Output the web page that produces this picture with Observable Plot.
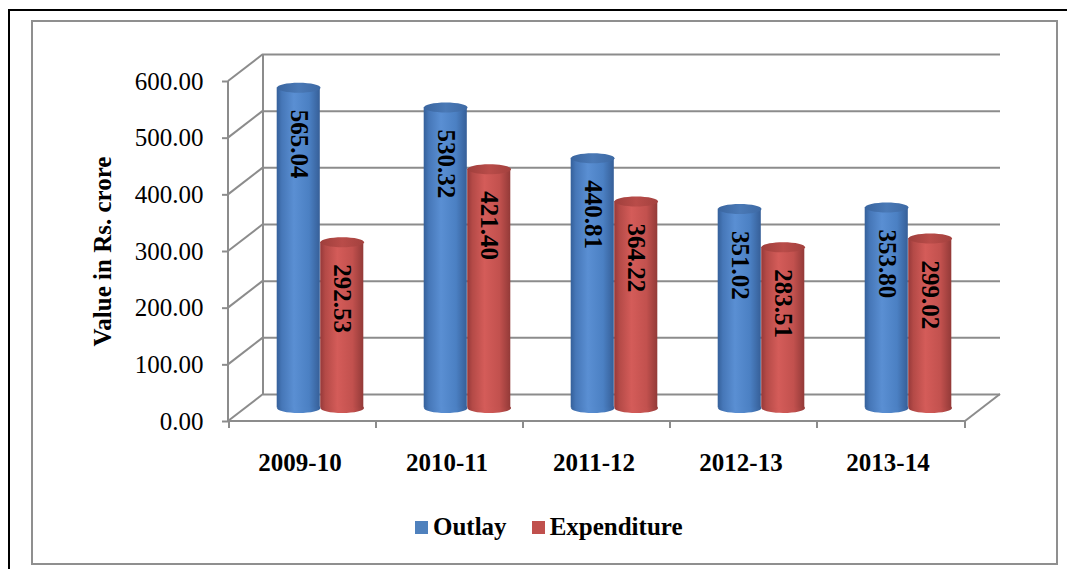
<!DOCTYPE html>
<html>
<head>
<meta charset="utf-8">
<script src="https://cdn.jsdelivr.net/npm/d3@7"></script>
<script src="https://cdn.jsdelivr.net/npm/@observablehq/plot@0.6"></script>
<style>
  html, body { margin: 0; padding: 0; background: #fff; overflow: hidden; width: 1067px; height: 569px; }
  #outer { position: absolute; left: 8px; top: 9px; width: 1100px; height: 600px; border-left: 2px solid #000; border-top: 2px solid #000; box-sizing: border-box; }
  #inner { position: absolute; left: 31px; top: 20px; width: 1027px; height: 545px; border: 2px solid #8f8f8f; box-sizing: border-box; }
  #chart { position: absolute; left: 0; top: 0; }
  #legend { position: absolute; left: 415px; top: 514px; height: 26px; display: flex; align-items: center;
            font-family: "Liberation Serif", "Times New Roman", serif; font-weight: bold; font-size: 25px; color: #000; }
  #legend .sw { width: 13px; height: 13px; margin-right: 5px; }
  #legend .item { display: flex; align-items: center; margin-right: 25px; }
</style>
</head>
<body>
<div id="outer"></div>
<div id="inner"></div>
<div id="chart"></div>
<div id="legend"></div>
<script>
// ---- data ----
const years = ["2009-10", "2010-11", "2011-12", "2012-13", "2013-14"];
const outlay = [565.04, 530.32, 440.81, 351.02, 353.80];
const expenditure = [292.53, 421.40, 364.22, 283.51, 299.02];
const seriesNames = ["Outlay", "Expenditure"];
const yTicks = [0, 100, 200, 300, 400, 500, 600];
const yLabel = "Value in Rs. crore";

// ---- layout / style ----
const W = 1067, H = 490;
const M = {left: 228, right: 102, top: 81, bottom: 69};
const DEPTH_X = 35, DEPTH_Y = -27;         // back wall offset
const MID_X = DEPTH_X / 2, MID_Y = DEPTH_Y / 2; // bars stand mid-depth
const BAND = (W - M.left - M.right) / years.length;
const BAR_W = 43.5;
const GRID = "#8c8c8c";
const FONT = "'Liberation Serif', 'Times New Roman', serif";
const FS = 25;

const rows = years.flatMap((year, i) => [
  {year, series: seriesNames[0], value: outlay[i]},
  {year, series: seriesNames[1], value: expenditure[i]}
]);

const ellipseSymbol = {
  draw(ctx, size) {
    const r = Math.sqrt(size / Math.PI), rx = r, ry = r * 0.23, k = 0.5523;
    ctx.moveTo(rx, 0);
    ctx.bezierCurveTo(rx, ry * k, rx * k, ry, 0, ry);
    ctx.bezierCurveTo(-rx * k, ry, -rx, ry * k, -rx, 0);
    ctx.bezierCurveTo(-rx, -ry * k, -rx * k, -ry, 0, -ry);
    ctx.bezierCurveTo(rx * k, -ry, rx, -ry * k, rx, 0);
    ctx.closePath();
  }
};

const styles = {
  Outlay: {side: "url(#sideBlue)", top: "url(#topBlue)", color: "#4f81bd", off: -BAR_W / 2, insetL: BAND / 2 - BAR_W, insetR: BAND / 2},
  Expenditure: {side: "url(#sideRed)", top: "url(#topRed)", color: "#c0504d", off: BAR_W / 2, insetL: BAND / 2, insetR: BAND / 2 - BAR_W}
};

function wallFrame(index, scales, values, dim) {
  const x = scales.x, y = scales.y;
  const L = dim.marginLeft, R = dim.width - dim.marginRight;
  const y0 = y(0), yMax = y(d3.max(yTicks));
  const g = d3.create("svg:g").attr("stroke", GRID).attr("stroke-width", 2).attr("fill", "none");
  const line = (x1, y1, x2, y2) => g.append("line").attr("x1", x1).attr("y1", y1).attr("x2", x2).attr("y2", y2);
  line(L + DEPTH_X, y0 + DEPTH_Y, L + DEPTH_X, yMax + DEPTH_Y); // back wall left edge
  for (const t of yTicks) line(L, y(t), L + DEPTH_X, y(t) + DEPTH_Y); // side diagonals
  line(R, y0, R + DEPTH_X, y0 + DEPTH_Y); // floor right diagonal
  line(L, y0, L, yMax);  // front axis
  line(L, y0, R, y0);    // front floor
  const bounds = years.map(d => x(d)).concat([R]);
  for (const bx of bounds) line(bx, y0, bx, y0 + 7);
  return g.node();
}

const marks = [
  Plot.ruleY(yTicks, {dx: DEPTH_X, dy: DEPTH_Y, stroke: GRID, strokeWidth: 2}),
  wallFrame,
  Plot.axisY({ticks: yTicks, tickFormat: d => d.toFixed(2), tickSize: 6, tickPadding: 19,
              stroke: GRID, strokeWidth: 2, fill: "#000", fontSize: FS, label: null}),
  Plot.axisX({tickSize: 0, tickPadding: 32, fontWeight: "bold", fontSize: FS, fill: "#000", label: null, dx: -3}),
  Plot.text([yLabel], {frameAnchor: "left", textAnchor: "middle", rotate: -90, dx: -126,
                       fontWeight: "bold", fontSize: FS, fill: "#000"})
];

for (const s of seriesNames) {
  const st = styles[s];
  const data = rows.filter(d => d.series === s);
  marks.push(
    Plot.dot(data, {x: "year", y: () => 0, r: BAR_W / 2, symbol: ellipseSymbol, fill: st.side, stroke: "none",
                    dx: MID_X + st.off, dy: MID_Y}),
    Plot.barY(data, {x: "year", y: "value", insetLeft: st.insetL, insetRight: st.insetR, fill: st.side,
                     dx: MID_X, dy: MID_Y}),
    Plot.dot(data, {x: "year", y: "value", r: BAR_W / 2, symbol: ellipseSymbol, fill: st.top, stroke: "none",
                    dx: MID_X + st.off, dy: MID_Y})
  );
}
for (const s of seriesNames) {
  const st = styles[s];
  marks.push(
    Plot.text(rows.filter(d => d.series === s), {x: "year", y: "value", text: d => d.value.toFixed(2),
      rotate: 90, textAnchor: "start", fontWeight: "bold", fontSize: FS, fill: "#000",
      dx: MID_X + st.off, dy: MID_Y + 22})
  );
}

const chart = Plot.plot({
  width: W, height: H,
  marginLeft: M.left, marginRight: M.right, marginTop: M.top, marginBottom: M.bottom,
  style: {fontFamily: FONT, fontSize: FS + "px", color: "#000", background: "transparent", overflow: "visible"},
  x: {type: "band", domain: years, padding: 0, axis: null},
  y: {domain: [0, 600], axis: null},
  marks
});

// gradients for the cylinder shading
const defs = d3.select(chart).insert("defs", ":first-child");
function grad(id, stops) {
  const g = defs.append("linearGradient").attr("id", id).attr("x1", "0").attr("x2", "1").attr("y1", "0").attr("y2", "0");
  for (const [o, c] of stops) g.append("stop").attr("offset", o).attr("stop-color", c);
}
grad("sideBlue", [[0, "#35609a"], [0.12, "#4677b8"], [0.4, "#5a8fd3"], [0.75, "#4b80c3"], [1, "#365f98"]]);
grad("sideRed", [[0, "#96393a"], [0.12, "#b44a47"], [0.4, "#d45c59"], [0.75, "#c2514e"], [1, "#933a38"]]);
grad("topBlue", [[0, "#3a659f"], [0.5, "#4a79b6"], [1, "#3d69a4"]]);
grad("topRed", [[0, "#9f3f3c"], [0.5, "#b94c49"], [1, "#a3413e"]]);

document.getElementById("chart").appendChild(chart);

// legend
const legend = d3.select("#legend");
for (const s of seriesNames) {
  const item = legend.append("div").attr("class", "item");
  item.append("div").attr("class", "sw").style("background", styles[s].color);
  item.append("span").text(s);
}
</script>
</body>
</html>
